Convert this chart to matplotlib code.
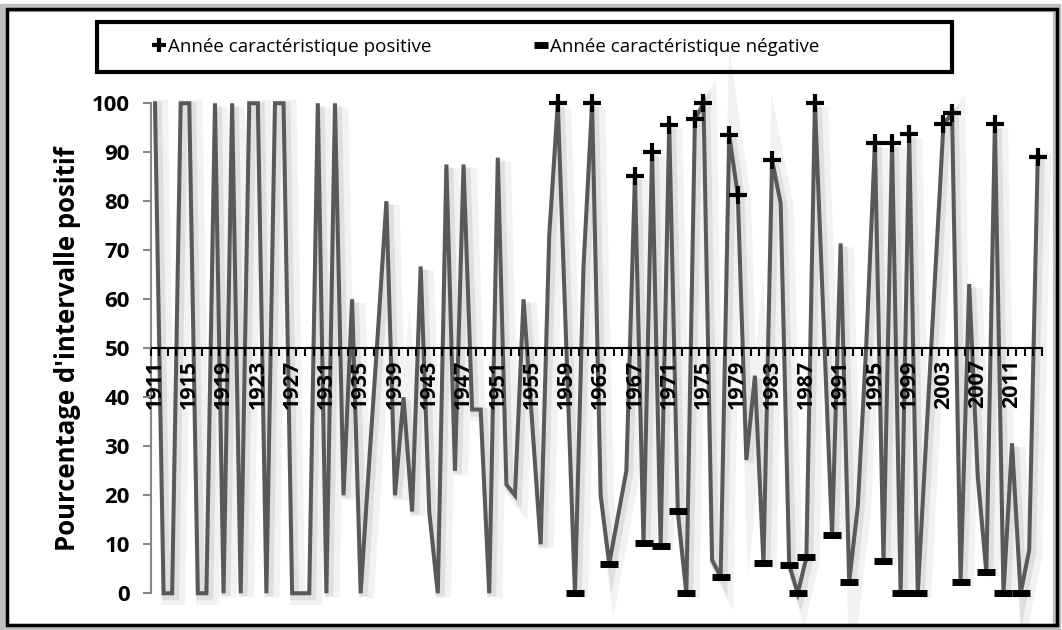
import numpy as np
import matplotlib
matplotlib.use("Agg")
from matplotlib import pyplot as plt
from matplotlib import patheffects as pe
from matplotlib.lines import Line2D
from matplotlib.patches import Rectangle

plt.rcParams['font.family'] = ['Open Sans', 'DejaVu Sans']

years = list(range(1911, 2015))
pct = [
    100, 0, 0, 100, 100, 0, 0, 100, 0, 100,          # 1911-1920
    0, 100, 100, 0, 100, 100, 0, 0, 0, 100,          # 1921-1930
    0, 100, 20, 60, 0, 27, 53, 80, 20, 40,           # 1931-1940
    16.7, 66.7, 16.7, 0, 87.5, 25, 87.5, 37.5, 37.5, 0,   # 1941-1950
    88.9, 22.2, 20, 60, 35, 10, 73, 100, 50, 0,      # 1951-1960
    66.7, 100, 20, 6, 15.5, 25, 85.2, 10.2, 90, 9.7,  # 1961-1970
    95.6, 16.7, 0, 96.7, 100, 6.8, 3.4, 93.5, 81.3, 27.2,  # 1971-1980
    44.4, 6.1, 88.4, 79.6, 5.8, 0, 7.3, 100, 56, 11.9,  # 1981-1990
    71.4, 2.4, 17.7, 51, 91.8, 6.6, 91.8, 0, 93.7, 0,   # 1991-2000
    32, 64, 95.7, 98, 2.4, 63.1, 23.8, 4.4, 95.7, 0,    # 2001-2010
    30.6, 0, 8.8, 89.1,                                  # 2011-2014
]
pos_years = [1958, 1962, 1967, 1969, 1971, 1974, 1975, 1978, 1979, 1983,
             1988, 1995, 1997, 1999, 2003, 2004, 2009, 2014]
neg_years = [1960, 1964, 1968, 1970, 1972, 1973, 1977, 1982, 1985, 1986,
             1987, 1990, 1992, 1996, 1998, 2000, 2005, 2008, 2010, 2012]
tick_years = list(range(1911, 2015, 4))

lab_pos = "Ann\u00e9e caract\u00e9ristique positive"
lab_neg = "Ann\u00e9e caract\u00e9ristique n\u00e9gative"

s = dict(zip(years, pct))
pos_vals = [s[y] for y in pos_years]
neg_vals = [s[y] for y in neg_years]

fig = plt.figure(figsize=(10.62, 6.3), dpi=100)
ax = fig.add_axes([0.1419, 0.0583, 0.8393, 0.7778])

shadow = [pe.SimpleLineShadow(offset=(4, -3), shadow_color='k', alpha=0.05, linewidth=11),
          pe.SimpleLineShadow(offset=(2, -2), shadow_color='k', alpha=0.08, linewidth=6),
          pe.Normal()]
ax.plot(years, pct, color='#595959', lw=2.9, solid_joinstyle='miter',
        path_effects=shadow, clip_on=False, zorder=2)
ax.plot(pos_years, pos_vals, ls='none', marker='+', ms=13, mew=3,
        color='black', clip_on=False, zorder=2.2)
ax.plot(neg_years, neg_vals, ls='none', marker='_', ms=13, mew=5,
        color='black', clip_on=False, zorder=2.2)

ax.set_xlim(1910.5, 2014.5)
ax.set_ylim(0, 100)
ax.set_axisbelow(False)

ax.spines['top'].set_visible(False)
ax.spines['right'].set_visible(False)
ax.spines['left'].set_color('#868686')
ax.spines['left'].set_linewidth(1.5)
ax.spines['bottom'].set_position(('data', 50))
ax.spines['bottom'].set_linewidth(1.5)

ax.set_yticks(range(0, 101, 10))
ax.tick_params(axis='y', direction='out', length=6, width=1.5, color='#868686',
               pad=9, labelsize=16)
for t in ax.get_yticklabels():
    t.set_fontweight('bold')

ax.set_xticks(tick_years)
ax.set_xticks(np.arange(1910.5, 2015, 1), minor=True)
ax.tick_params(axis='x', which='major', length=0, pad=8, labelsize=15.5, labelrotation=90)
ax.tick_params(axis='x', which='minor', direction='out', length=6, width=1.5, color='black')
for t in ax.get_xticklabels():
    t.set_fontweight('bold')
    t.set_va('top')

ax.set_ylabel("Pourcentage d'intervalle positif", fontsize=18.5, fontweight='bold', labelpad=8)

# legend box
fig.patches.append(Rectangle((0.0913, 0.886), 0.805, 0.079, transform=fig.transFigure,
                             fill=False, edgecolor='black', lw=3, zorder=5))
handles = [Line2D([], [], ls='none', marker='+', ms=10, mew=3, color='black'),
           Line2D([], [], ls='none', marker='_', ms=10, mew=5, color='black')]
fig.legend(handles, [lab_pos, lab_neg], loc='center', bbox_to_anchor=(0.458, 0.9254),
           ncol=2, frameon=False, fontsize=13.5, handlelength=0.6, handletextpad=0.2,
           columnspacing=5.5)

# outer frame with soft shadow
fig.patches.append(Rectangle((0.003, 0.003), 0.992, 0.985, transform=fig.transFigure,
                             fill=False, edgecolor='#bfbfbf', lw=6, zorder=0))
fig.patches.append(Rectangle((0.007, 0.008), 0.988, 0.977, transform=fig.transFigure,
                             fill=False, edgecolor='black', lw=2.5, zorder=6))

fig.savefig('out.png', dpi=100, facecolor='white')
